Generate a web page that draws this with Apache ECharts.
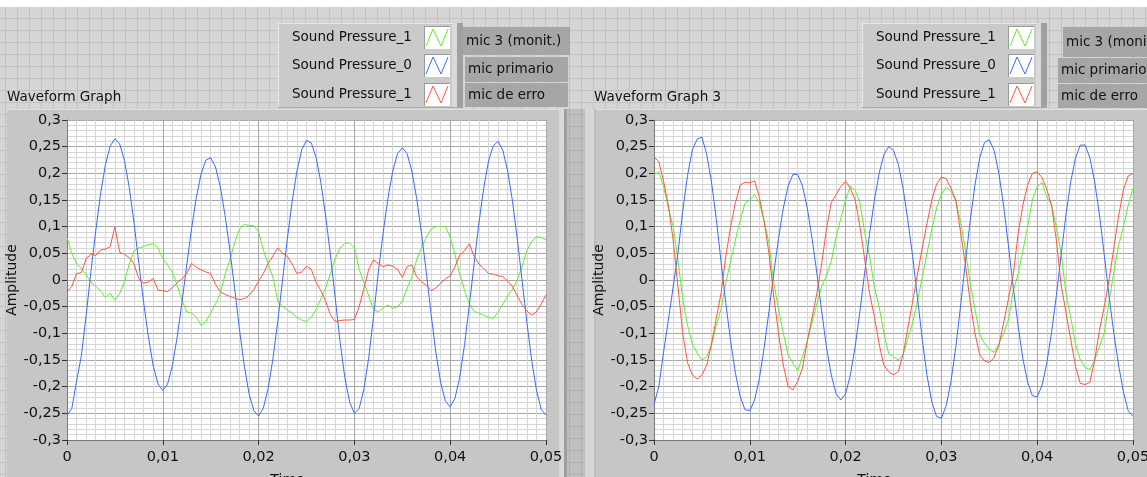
<!DOCTYPE html>
<html><head><meta charset="utf-8">
<script src="https://cdn.jsdelivr.net/npm/echarts@6/dist/echarts.min.js"></script>
<style>html,body{margin:0;padding:0;background:#d5d5d5;overflow:hidden}#c{width:1147px;height:477px}</style>
</head><body><div id="c"></div>
<script>
// ---- data (sampled every dt seconds from t = 0) ----
const t0 = 0;
const dt = 0.0005;
const graphTitles = ['Waveform Graph', 'Waveform Graph 3'];
const plotNames = ['Sound Pressure_1', 'Sound Pressure_0', 'Sound Pressure_1'];
const plotLabels = ['mic 3 (monit.)', 'mic primario', 'mic de erro'];
const xTickValues = [0, 0.01, 0.02, 0.03, 0.04, 0.05];

const leftGreen = [0.08,0.05,0.03,0.022,0.01,-0.004,-0.012,-0.02,-0.033,-0.025,
-0.038,-0.025,-0.003,0.03,0.055,0.06,0.063,0.066,0.068,0.06,
0.04,0.028,0.015,-0.01,-0.038,-0.06,-0.062,-0.07,-0.085,-0.078,
-0.062,-0.045,-0.025,0.01,0.038,0.07,0.095,0.105,0.102,0.102,
0.09,0.056,0.03,0.005,-0.04,-0.05,-0.056,-0.062,-0.07,-0.075,
-0.078,-0.07,-0.055,-0.035,-0.015,0.012,0.04,0.06,0.069,0.069,
0.06,0.02,-0.005,-0.03,-0.055,-0.06,-0.052,-0.047,-0.053,-0.05,
-0.04,-0.015,0.005,0.038,0.06,0.08,0.095,0.1,0.1,0.1,
0.08,0.048,0.01,-0.02,-0.045,-0.059,-0.062,-0.066,-0.07,-0.072,
-0.06,-0.045,-0.03,-0.018,0,0.025,0.055,0.072,0.081,0.08,0.075];

const leftBlue = [-0.253,-0.241,-0.19,-0.142,-0.066,0.016,0.092,0.161,0.215,0.251,
0.265,0.255,0.224,0.173,0.107,0.031,-0.042,-0.107,-0.161,-0.195,
-0.207,-0.195,-0.161,-0.107,-0.042,0.028,0.096,0.155,0.199,0.225,
0.229,0.212,0.175,0.121,0.056,-0.016,-0.092,-0.16,-0.213,-0.245,
-0.255,-0.24,-0.203,-0.147,-0.078,0,0.077,0.147,0.204,0.244,
0.262,0.257,0.23,0.183,0.12,0.047,-0.034,-0.115,-0.183,-0.229,
-0.25,-0.241,-0.204,-0.145,-0.068,0.015,0.088,0.153,0.204,0.237,
0.248,0.237,0.204,0.153,0.088,0.015,-0.063,-0.135,-0.192,-0.227,
-0.238,-0.222,-0.182,-0.121,-0.047,0.031,0.107,0.172,0.223,0.252,
0.26,0.243,0.204,0.148,0.077,0,-0.079,-0.15,-0.206,-0.243,-0.253];

const leftRed = [-0.022,-0.012,0.012,0.014,0.04,0.048,0.046,0.056,0.058,0.062,
0.1,0.052,0.048,0.042,0.03,0.002,-0.006,-0.004,0.003,-0.019,
-0.02,-0.022,-0.014,-0.005,0.002,0.012,0.031,0.024,0.019,0.015,
0.012,-0.008,-0.022,-0.027,-0.031,-0.034,-0.037,-0.035,-0.029,-0.018,
-0.002,0.012,0.031,0.045,0.06,0.05,0.044,0.03,0.012,0.015,
0.026,0.02,-0.004,-0.02,-0.04,-0.065,-0.078,-0.076,-0.075,-0.075,
-0.074,-0.05,-0.015,0.02,0.038,0.03,0.025,0.028,0.026,0.02,
0.005,0.025,0.028,0.006,-0.003,-0.01,-0.02,-0.015,-0.006,0.002,
0.008,0.025,0.047,0.055,0.068,0.044,0.03,0.022,0.012,0.011,
0.008,0.006,-0.002,-0.012,-0.03,-0.046,-0.058,-0.066,-0.06,-0.045,-0.028];

const rightGreen = [0.197,0.203,0.175,0.135,0.1,0.0375,-0.035,-0.085,-0.12,-0.137,
-0.15,-0.144,-0.122,-0.085,-0.055,-0.005,0.035,0.075,0.112,0.144,
0.15,0.16,0.145,0.11,0.07,-0.005,-0.055,-0.1,-0.14,-0.156,
-0.17,-0.144,-0.115,-0.08,-0.045,-0.012,0.008,0.035,0.08,0.115,
0.15,0.176,0.168,0.144,0.0875,0.045,-0.0125,-0.05,-0.1,-0.138,
-0.144,-0.15,-0.14,-0.11,-0.08,-0.04,0.005,0.05,0.095,0.135,
0.16,0.174,0.166,0.148,0.11,0.056,-0.005,-0.055,-0.102,-0.119,
-0.13,-0.136,-0.12,-0.1,-0.075,-0.02,0.01,0.055,0.1,0.15,
0.175,0.183,0.156,0.14,0.1,0.05,-0.025,-0.07,-0.12,-0.15,
-0.164,-0.168,-0.15,-0.125,-0.1,-0.04,0.015,0.065,0.1,0.14,0.172];

const rightBlue = [-0.233,-0.2,-0.135,-0.075,-0.013,0.05,0.13,0.196,0.244,0.264,
0.268,0.236,0.184,0.115,0.034,-0.044,-0.115,-0.175,-0.219,-0.243,
-0.245,-0.225,-0.185,-0.127,-0.059,0.013,0.078,0.135,0.176,0.198,
0.198,0.176,0.135,0.078,0.013,-0.058,-0.125,-0.178,-0.213,-0.225,
-0.213,-0.178,-0.125,-0.058,0.015,0.086,0.149,0.2,0.235,0.25,
0.243,0.217,0.172,0.112,0.044,-0.033,-0.111,-0.179,-0.229,-0.256,
-0.259,-0.236,-0.19,-0.126,-0.049,0.032,0.11,0.178,0.229,0.258,
0.263,0.243,0.2,0.139,0.064,-0.014,-0.085,-0.147,-0.191,-0.217,
-0.219,-0.198,-0.156,-0.098,-0.029,0.047,0.122,0.184,0.229,0.253,
0.253,0.229,0.184,0.122,0.047,-0.03,-0.1,-0.16,-0.21,-0.245,-0.256];

const rightRed = [0.23,0.222,0.185,0.14,0.075,-0.012,-0.1,-0.155,-0.178,-0.186,
-0.178,-0.16,-0.12,-0.072,-0.025,0.045,0.1,0.145,0.178,0.183,
0.182,0.186,0.155,0.11,0.05,-0.03,-0.1,-0.16,-0.2,-0.206,
-0.19,-0.165,-0.115,-0.07,-0.025,0.03,0.095,0.145,0.16,0.175,
0.185,0.172,0.15,0.1,0.0375,-0.025,-0.068,-0.12,-0.16,-0.172,
-0.178,-0.172,-0.14,-0.09,-0.04,0.01,0.06,0.106,0.15,0.18,
0.193,0.19,0.172,0.15,0.09,0.03,-0.04,-0.1,-0.14,-0.152,
-0.155,-0.145,-0.122,-0.08,-0.035,0.01,0.085,0.14,0.178,0.2,
0.203,0.192,0.17,0.14,0.075,-0.01,-0.06,-0.112,-0.162,-0.194,
-0.196,-0.192,-0.15,-0.094,-0.05,0,0.06,0.12,0.169,0.195,0.2];

// ---- styles ----
const plotColors = ['#5ef02c', '#3a6aff', '#ff5443'];
const FONT = '"DejaVu Sans", Verdana, sans-serif';
const W = 1147, H = 477;

function fmt(v) {
  if (Math.abs(v) < 1e-9) return '0';
  return String(+(+v).toFixed(3)).replace('.', ',');
}

function toPairs(arr) {
  return arr.map((v, i) => [+(t0 + i * dt).toFixed(5), v]);
}

function xAx(gi) {
  return {
    type: 'value', gridIndex: gi, min: xTickValues[0], max: xTickValues[xTickValues.length - 1], interval: 0.01,
    name: 'Time', nameLocation: 'middle', nameGap: 33,
    nameTextStyle: { fontFamily: FONT, fontSize: 14, color: '#111', padding: [0, 38, 0, 0] },
    axisLine: { show: true, onZero: false, lineStyle: { color: '#7a7a7a', width: 1 } },
    axisTick: { show: true, length: 5, lineStyle: { color: '#333' } },
    axisLabel: { margin: 10, formatter: fmt, color: '#111', fontFamily: FONT, fontSize: 14.5 },
    splitLine: { show: true, lineStyle: { color: '#a8a8a8', width: 1 } },
    minorTick: { show: false, splitNumber: 10 },
    minorSplitLine: { show: true, lineStyle: { color: '#d6d6d6', width: 1 } }
  };
}
function yAx(gi) {
  return {
    type: 'value', gridIndex: gi, min: -0.3, max: 0.3, interval: 0.05,
    name: 'Amplitude', nameLocation: 'middle', nameGap: 47, nameRotate: 90,
    nameTextStyle: { fontFamily: FONT, fontSize: 14, color: '#111' },
    axisLine: { show: true, onZero: false, lineStyle: { color: '#7a7a7a', width: 1 } },
    axisTick: { show: true, length: 5, lineStyle: { color: '#333' } },
    axisLabel: { margin: 6, formatter: fmt, color: '#111', fontFamily: FONT, fontSize: 14.5 },
    splitLine: { show: true, lineStyle: { color: '#a8a8a8', width: 1 } },
    minorTick: { show: false, splitNumber: 5 },
    minorSplitLine: { show: true, lineStyle: { color: '#d6d6d6', width: 1 } }
  };
}
function mk(arr, idx, gi) {
  return {
    type: 'line', name: plotNames[idx], xAxisIndex: gi, yAxisIndex: gi,
    data: toPairs(arr), showSymbol: false, symbol: 'none', smooth: false,
    lineStyle: { color: plotColors[idx], width: 1 }, itemStyle: { color: plotColors[idx] },
    emphasis: { disabled: true }, z: 3
  };
}

// ---- panel decoration (LabVIEW front panel look) ----
const g = [];
function rect(x, y, w, h, fill, z) { g.push({ type: 'rect', silent: true, z: z, shape: { x, y, width: w, height: h }, style: { fill } }); }
function line(x1, y1, x2, y2, stroke, z) { g.push({ type: 'line', silent: true, z: z, shape: { x1, y1, x2, y2 }, style: { stroke, lineWidth: 1 } }); }
function text(x, y, s, size, z) {
  g.push({ type: 'text', silent: true, z: z, x, y,
    style: { text: s, fontFamily: FONT, fontSize: size, fill: '#121212', align: 'left', verticalAlign: 'middle', textAlign: 'left', textVerticalAlign: 'middle' } });
}
rect(0, 0, W, H, '#d5d5d5', -30);
for (let x = 5; x < W; x += 12) line(x + 0.5, 7, x + 0.5, H, '#c2c2c2', -29);
for (let y = 18; y < H; y += 12) line(0, y + 0.5, W, y + 0.5, '#c2c2c2', -29);
rect(0, 0, W, 7, '#ffffff', -28);
// strip between the two graphs (shadowed)
rect(567, 109, 18, H - 109, 'rgba(0,0,0,0.10)', -27);

// graph frames
function frame(x, w, leftBevel, rightBevel) {
  rect(x, 109, w, H - 109, '#c6c6c6', -20);
  line(x, 109.5, x + w, 109.5, '#dedede', -19);
  if (leftBevel) { rect(x, 109, 9, H - 109, '#d6d6d6', -19); rect(x + 9, 109, 2, H - 109, '#bcbcbc', -19); }
  if (rightBevel) { rect(x + w - 8, 109, 5, H - 109, '#d9d9d9', -19); rect(x + w - 3, 109, 3, H - 109, '#9f9f9f', -19); }
}
frame(7, 560, false, true);
frame(585, 562, true, false);

// titles
text(7, 97, graphTitles[0], 13.5, -5);
text(594, 97, graphTitles[1], 13.5, -5);

// plot legends
function legend(x0, labelBoxes) {
  rect(x0, 23, 185, 85, '#cacaca', -15);
  line(x0, 23.5, x0 + 185, 23.5, '#e8e8e8', -14);
  line(x0 + 0.5, 23, x0 + 0.5, 108, '#e8e8e8', -14);
  rect(x0 + 174, 23, 5, 85, '#dadada', -14);
  rect(x0 + 179, 23, 6, 85, '#a0a0a0', -14);
  line(x0, 107.5, x0 + 185, 107.5, '#a8a8a8', -14);
  const rows = [26, 54, 83];
  for (let i = 0; i < 3; i++) {
    const y = rows[i];
    text(x0 + 14, y + 11.5, plotNames[i], 13.5, -12);
    rect(x0 + 146, y, 26, 23, '#ffffff', -13);
    line(x0 + 146, y + 0.5, x0 + 172, y + 0.5, '#9a9a9a', -12);
    line(x0 + 146.5, y, x0 + 146.5, y + 23, '#9a9a9a', -12);
    g.push({ type: 'polyline', silent: true, z: -11,
      shape: { points: [[x0 + 148, y + 20], [x0 + 155, y + 3], [x0 + 163, y + 20], [x0 + 170, y + 3]] },
      style: { stroke: plotColors[i], lineWidth: 1, fill: null } });
    const b = labelBoxes[i];
    rect(b[0], b[1], b[2], b[3], '#a6a6a6', -15);
    text(b[0] + 3, b[1] + b[3] / 2, plotLabels[i], 13.5, -12);
  }
}
legend(278, [[463, 27, 107, 28], [465, 57, 103, 25], [465, 83, 103, 24]]);
legend(862, [[1063, 27, 84, 30], [1058, 58, 89, 25], [1058, 84, 89, 24]]);

const chart = echarts.init(document.getElementById('c'), null, { renderer: 'canvas' });
chart.setOption({
  animation: false,
  backgroundColor: '#d5d5d5',
  graphic: { elements: g },
  grid: [
    { left: 67, top: 120, width: 479, height: 320, show: true, backgroundColor: '#ffffff', borderWidth: 0, containLabel: false, outerBoundsMode: 'none' },
    { left: 654, top: 120, width: 479, height: 320, show: true, backgroundColor: '#ffffff', borderWidth: 0, containLabel: false, outerBoundsMode: 'none' }
  ],
  xAxis: [xAx(0), xAx(1)],
  yAxis: [yAx(0), yAx(1)],
  series: [
    mk(leftGreen, 0, 0), mk(leftBlue, 1, 0), mk(leftRed, 2, 0),
    mk(rightGreen, 0, 1), mk(rightBlue, 1, 1), mk(rightRed, 2, 1)
  ]
});
</script>
</body></html>
